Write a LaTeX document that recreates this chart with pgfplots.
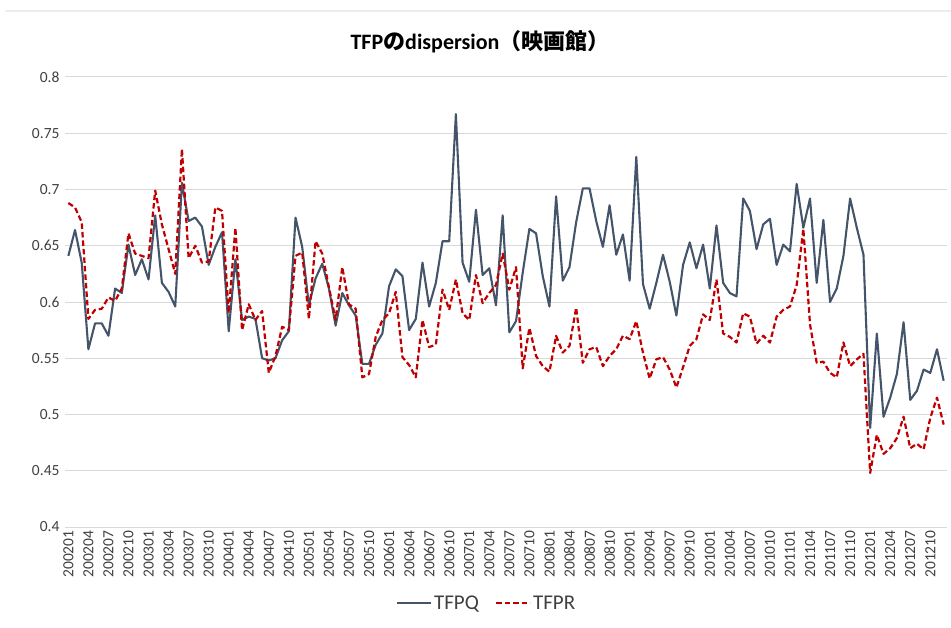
\documentclass[border=0pt]{standalone}
\usepackage{pgfplots}
\usepackage{pgfplotstable}
\pgfplotsset{compat=1.18}
\usepackage{fontspec}
\setmainfont{Carlito}
\newfontfamily\cjk{Noto Sans CJK JP}
\definecolor{tfpq}{HTML}{44546A}
\definecolor{tfpr}{HTML}{C00000}
\definecolor{gridc}{HTML}{D9D9D9}
\definecolor{lab}{HTML}{404040}
\pgfplotstableread{
i q r
0 0.641 0.688
1 0.664 0.684
2 0.635 0.671
3 0.558 0.585
4 0.581 0.593
5 0.581 0.594
6 0.570 0.604
7 0.612 0.601
8 0.608 0.612
9 0.651 0.661
10 0.624 0.643
11 0.638 0.641
12 0.620 0.639
13 0.677 0.699
14 0.617 0.669
15 0.609 0.647
16 0.596 0.625
17 0.706 0.736
18 0.672 0.639
19 0.675 0.650
20 0.667 0.635
21 0.633 0.636
22 0.649 0.684
23 0.662 0.681
24 0.574 0.590
25 0.638 0.666
26 0.584 0.575
27 0.587 0.598
28 0.585 0.584
29 0.550 0.592
30 0.548 0.537
31 0.550 0.552
32 0.566 0.578
33 0.574 0.575
34 0.675 0.641
35 0.649 0.644
36 0.597 0.585
37 0.621 0.654
38 0.634 0.643
39 0.612 0.613
40 0.579 0.584
41 0.608 0.631
42 0.597 0.598
43 0.588 0.594
44 0.545 0.533
45 0.545 0.536
46 0.562 0.569
47 0.572 0.584
48 0.614 0.590
49 0.629 0.609
50 0.623 0.551
51 0.575 0.544
52 0.585 0.533
53 0.635 0.584
54 0.596 0.560
55 0.617 0.562
56 0.654 0.611
57 0.654 0.593
58 0.767 0.620
59 0.635 0.590
60 0.618 0.584
61 0.682 0.624
62 0.624 0.599
63 0.630 0.608
64 0.597 0.615
65 0.677 0.643
66 0.573 0.611
67 0.583 0.631
68 0.626 0.541
69 0.665 0.577
70 0.661 0.552
71 0.623 0.543
72 0.596 0.538
73 0.694 0.570
74 0.619 0.555
75 0.631 0.561
76 0.671 0.595
77 0.701 0.546
78 0.701 0.558
79 0.672 0.560
80 0.649 0.543
81 0.686 0.552
82 0.642 0.558
83 0.660 0.570
84 0.619 0.567
85 0.729 0.583
86 0.616 0.555
87 0.594 0.532
88 0.617 0.549
89 0.642 0.551
90 0.618 0.540
91 0.588 0.524
92 0.633 0.542
93 0.653 0.561
94 0.630 0.567
95 0.651 0.589
96 0.612 0.584
97 0.668 0.620
98 0.617 0.572
99 0.608 0.569
100 0.605 0.564
101 0.692 0.590
102 0.681 0.587
103 0.647 0.563
104 0.669 0.570
105 0.674 0.564
106 0.633 0.587
107 0.651 0.593
108 0.645 0.596
109 0.705 0.615
110 0.666 0.665
111 0.692 0.580
112 0.617 0.546
113 0.673 0.547
114 0.600 0.537
115 0.612 0.533
116 0.641 0.564
117 0.692 0.543
118 0.666 0.549
119 0.642 0.554
120 0.488 0.448
121 0.572 0.482
122 0.498 0.465
123 0.515 0.470
124 0.536 0.479
125 0.582 0.498
126 0.513 0.470
127 0.521 0.474
128 0.540 0.469
129 0.537 0.497
130 0.558 0.515
131 0.530 0.491
}\datatable
\begin{document}
\begin{tikzpicture}
\path[use as bounding box] (0,0) rectangle (951pt,-628pt);
\draw[color=black!7, line width=1.5pt] (5pt,-11pt) -- (951pt,-11pt);
\node[font=\fontsize{22}{26}\selectfont\bfseries, anchor=center] at (480pt,-42pt) {TFP{\cjk\bfseries の}dispersion{\cjk\bfseries （映画館）}};
\begin{axis}[
  scale only axis,
  width=882pt, height=450pt,
  at={(65pt,-77pt)}, anchor=north west,
  xmin=-0.5, xmax=131.5,
  ymin=0.4, ymax=0.8,
  ytick={0.4,0.45,...,0.81},
  xtick={0,3,...,129},
  xticklabels={200201,200204,200207,200210,200301,200304,200307,200310,200401,200404,200407,200410,200501,200504,200507,200510,200601,200604,200607,200610,200701,200704,200707,200710,200801,200804,200807,200810,200901,200904,200907,200910,201001,201004,201007,201010,201101,201104,201107,201110,201201,201204,201207,201210},
  /pgf/number format/assume math mode=true,
  /pgf/number format/fixed,
  /pgf/number format/precision=2,
  yticklabel style={font=\fontsize{15.5}{18}\selectfont, text=lab, xshift=-2pt},
  xticklabel style={font=\fontsize{15.5}{18}\selectfont, text=lab, rotate=90, anchor=east},
  major tick length=0pt,
  axis line style={draw=none},
  ymajorgrids,
  major grid style={color=gridc, line width=1pt},
  clip=false,
  legend columns=2,
  legend style={at={(0.478,-0.169)}, anchor=center, draw=none, fill=none,
    font=\fontsize{21}{24}\selectfont, text=lab,
    /tikz/every even column/.append style={column sep=14pt}},
  legend image code/.code={\draw[#1] (0pt,0pt) -- (34pt,0pt);},
]
\addplot[color=tfpq, line width=2.1pt, line join=round] table[x=i, y=q] {\datatable};
\addlegendentry{TFPQ}
\addplot[color=tfpr, line width=2.2pt, dash pattern=on 5.5pt off 3pt, line join=round] table[x=i, y=r] {\datatable};
\addlegendentry{TFPR}
\end{axis}
\end{tikzpicture}
\end{document}
